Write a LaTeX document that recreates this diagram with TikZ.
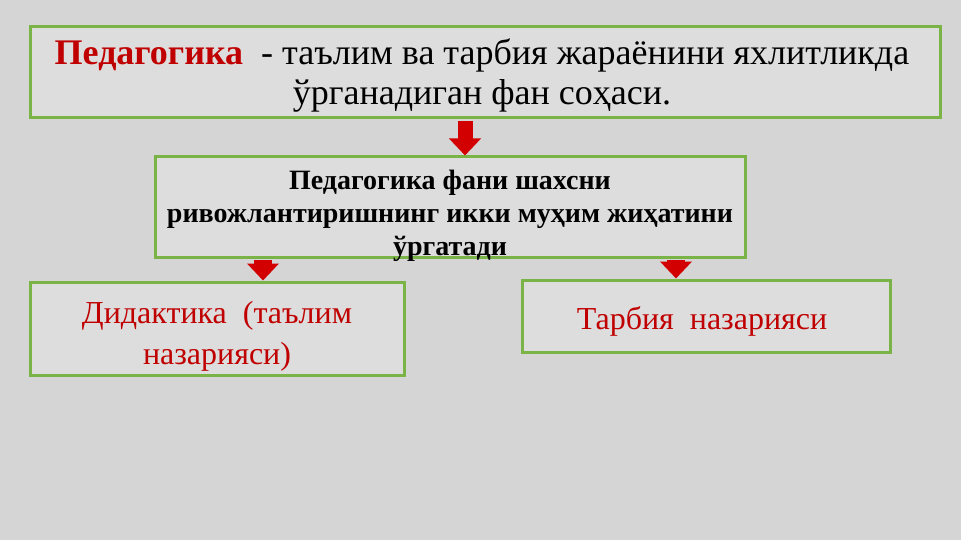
\documentclass[tikz,border=0pt]{standalone}
\usepackage{fontspec}
\setmainfont{Liberation Serif}
\usetikzlibrary{arrows.meta}
\definecolor{bgc}{RGB}{213,213,213}
\definecolor{boxfill}{RGB}{221,221,221}
\definecolor{boxline}{RGB}{122,180,70}
\definecolor{txtred}{RGB}{192,0,0}
\definecolor{arrred}{RGB}{210,0,0}
\tikzset{
  box/.style={draw=boxline, line width=3pt, fill=boxfill, inner sep=0pt},
  flowarrow/.style={draw=arrred, line width=#1, -{Triangle[width=31pt,length=17pt]}, shorten <=1.5pt},
}
\begin{document}
\begin{tikzpicture}[x=1pt,y=-1pt]
\fill[bgc] (0,0) rectangle (961,540);
\useasboundingbox (0,0) rectangle (961,540);
% boxes
\node[box, minimum width=910pt, minimum height=91pt] (b1) at (485,72.5) {};
\node[box, minimum width=590pt, minimum height=100pt] (b2) at (450,207) {};
\node[box, minimum width=374pt, minimum height=93pt] (b3) at (217,328.5) {};
\node[box, minimum width=368pt, minimum height=72pt] (b4) at (706,316) {};
% texts
\node[align=center, font=\fontsize{36}{40}\selectfont, inner sep=0pt] (t1) at (482,76)
  {{\bfseries\color{txtred}Педагогика}\ \ - таълим ва тарбия жараёнини яхлитликда\\ ўрганадиган фан соҳаси.};
\node[align=center, font=\fontsize{28}{33}\selectfont\bfseries, inner sep=0pt] (t2) at (450,216)
  {Педагогика фани шахсни\\ ривожлантиришнинг икки муҳим жиҳатини\\ ўргатади};
\node[align=center, font=\fontsize{32}{41}\selectfont, text=txtred, inner sep=0pt] (t3) at (217,336)
  {Дидактика\ \ (таълим\\ назарияси)};
\node[align=center, font=\fontsize{32}{38}\selectfont, text=txtred, inner sep=0pt] (t4) at (702,321)
  {Тарбия\ \ назарияси};
% arrows
\coordinate (x1) at (465,0);
\coordinate (x2) at (263,0);
\coordinate (x3) at (676,0);
\draw[flowarrow=15pt] (x1 |- b1.south) -- (x1 |- b2.north);
\draw[flowarrow=18pt] (x2 |- b2.south) -- (x2 |- b3.north);
\draw[flowarrow=18pt] (x3 |- b2.south) -- (x3 |- b4.north);
\end{tikzpicture}
\end{document}
